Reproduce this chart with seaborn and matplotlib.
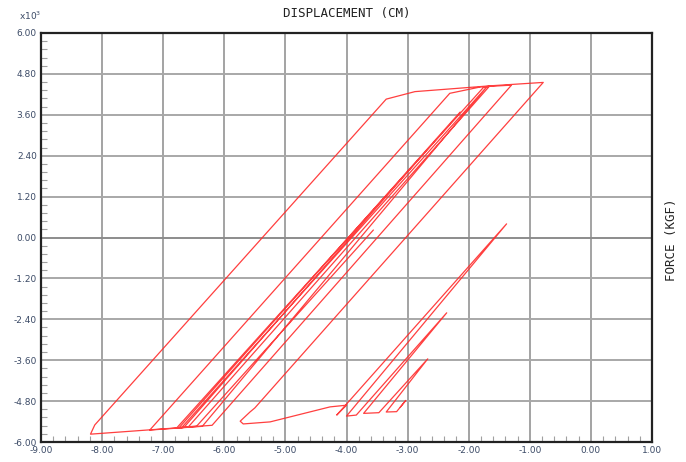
import matplotlib
matplotlib.use("Agg")
import matplotlib.pyplot as plt
from matplotlib.ticker import MultipleLocator, FixedLocator
import seaborn as sns
import pandas as pd
import numpy as np

# Hysteresis record: displacement (cm) and force (x10^3 kgf)
disp = [-3.56, -6.45, -6.74, -2.14, -6.66, -6.78, -1.76, -1.66, -6.59, -6.70,
        -1.70, -6.36, -7.22, -2.31, -1.80, -1.30, -6.20, -8.19, -8.12, -3.35,
        -2.88, -1.65, -0.78, -5.50, -5.58, -5.74, -5.69, -5.25, -4.27, -4.00,
        -4.16, -1.38, -4.00, -3.84, -2.36, -3.72, -3.47, -2.67, -3.35, -3.18,
        -3.03, -3.12]
force = [0.22, -5.53, -5.58, 3.68, -5.57, -5.59, 4.40, 4.44, -5.56, -5.58,
         4.43, -5.54, -5.65, 4.23, 4.42, 4.47, -5.51, -5.77, -5.50, 4.06,
         4.28, 4.45, 4.55, -5.00, -5.12, -5.39, -5.47, -5.41, -4.97, -4.92,
         -5.21, 0.40, -5.24, -5.21, -2.21, -5.16, -5.14, -3.56, -5.12, -5.11,
         -4.78, -4.98]

x_ticks = [-9, -8, -7, -6, -5, -4, -3, -2, -1, 0, 1]
x_labels = ["-9.00", "-8.00", "-7.00", "-6.00", "-5.00", "-4.00", "-3.00",
            "-2.00", "-1.00", "0.00", "1.00"]
y_ticks = [-6.0, -4.8, -3.6, -2.4, -1.2, 0.0, 1.2, 2.4, 3.6, 4.8, 6.0]
y_labels = ["-6.00", "-4.80", "-3.60", "-2.40", "-1.20", "0.00", "1.20",
            "2.40", "3.60", "4.80", "6.00"]

df = pd.DataFrame({"disp": disp, "force": force})

sns.set_style("white")
plt.rcParams['font.family'] = ['DejaVu Sans']

fig = plt.figure(figsize=(6.86, 4.62), dpi=100)
ax = fig.add_axes([41/686, 1-442/462, (652-41)/686, (442-33)/462])

ax.set_xlim(-9, 1)
ax.set_ylim(-6, 6)

# grid
for xv in x_ticks[1:-1]:
    ax.axvline(xv, color="#a3a3a3", lw=1.4, zorder=1)
for yv in y_ticks[1:-1]:
    ax.axhline(yv, color="#8c8c8c" if yv == 0 else "#a8a8a8", lw=1.4, zorder=1)

sns.lineplot(data=df, x="disp", y="force", sort=False, estimator=None,
             color="#ff2a2a", lw=0.9, alpha=0.9, ax=ax, zorder=3)

ax.set_xlabel("")
ax.set_ylabel("")
ax.xaxis.set_major_locator(FixedLocator(x_ticks))
ax.yaxis.set_major_locator(FixedLocator(y_ticks))
ax.set_xticklabels(x_labels)
ax.set_yticklabels(y_labels)
ax.xaxis.set_minor_locator(MultipleLocator(0.2))
ax.yaxis.set_minor_locator(MultipleLocator(0.24))
ax.tick_params(axis="both", which="major", length=0, labelsize=6.5,
               labelcolor="#3b4a66", pad=3)
ax.tick_params(axis="both", which="minor", direction="in", length=4,
               width=0.8, color="#a0a0a0", bottom=True, left=True)

for sp in ax.spines.values():
    sp.set_color("#222222")
    sp.set_linewidth(1.6)

fig.text(347/686, 1-14/462, "DISPLACEMENT (CM)", ha="center", va="center",
         fontsize=9, family="DejaVu Sans Mono", color="#222222")
fig.text(672/686, 1-240/462, "FORCE (KGF)", ha="center", va="center",
         rotation=90, fontsize=9, family="DejaVu Sans Mono", color="#222222")
fig.text(19/686, 1-16/462, r"x10$^3$", ha="left", va="center",
         fontsize=6.5, color="#3b4a66")

fig.savefig("out.png", dpi=100)
